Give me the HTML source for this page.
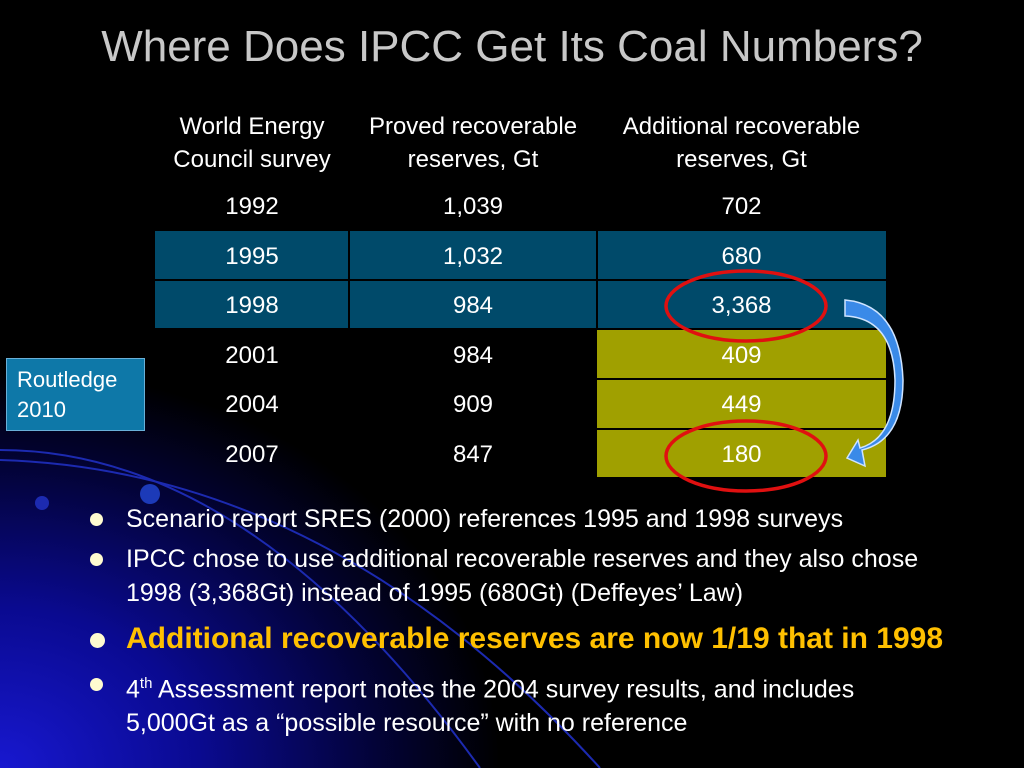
<!DOCTYPE html>
<html><head><meta charset="utf-8"><style>
body{margin:0;width:1024px;height:768px;overflow:hidden;background:#000;font-family:"Liberation Sans",sans-serif}
#s{position:relative;width:1024px;height:768px;background:radial-gradient(ellipse 500px 400px at 0px 768px,#1818d0 0%,#0a0a90 40%,#030338 75%,#000 100%)}
.t{position:absolute;color:#fff;font-size:24px;text-align:center;line-height:33px;white-space:nowrap}
.c{position:absolute;box-sizing:border-box}
.b{position:absolute;left:126px;color:#fff;font-size:25px;line-height:34px;white-space:nowrap}
.d{position:absolute;left:90px;width:13px;height:13px;border-radius:50%;background:#fffbd0}
</style></head><body>
<div id="s">
<svg width="1024" height="768" style="position:absolute;left:0;top:0">
<path d="M0 450 Q250 450 480 768" stroke="#1c2ab0" stroke-width="2" fill="none"/>
<path d="M0 460 Q330 470 600 768" stroke="#1c2ab0" stroke-width="2" fill="none"/>
<circle cx="150" cy="494" r="10" fill="#1c3ab8"/><circle cx="42" cy="503" r="7" fill="#1c2ab0"/>
</svg>
<div class="t" style="left:0;width:1024px;top:22px;font-size:44px;line-height:50px;color:#c8c8c8">Where Does IPCC Get Its Coal Numbers?</div>
<div class="c" style="left:155px;top:231px;width:731px;height:48px;background:#004a6a"></div>
<div class="c" style="left:155px;top:281px;width:731px;height:47px;background:#004a6a"></div>
<div class="c" style="left:597px;top:330px;width:289px;height:48px;background:#a0a000"></div>
<div class="c" style="left:597px;top:380px;width:289px;height:48px;background:#a0a000"></div>
<div class="c" style="left:597px;top:430px;width:289px;height:47px;background:#a0a000"></div>
<div class="c" style="left:348px;top:231px;width:2px;height:97px;background:#000"></div>
<div class="c" style="left:596px;top:231px;width:2px;height:97px;background:#000"></div>
<div class="t" style="left:155px;width:194px;top:110px">World Energy<br>Council survey</div>
<div class="t" style="left:349px;width:248px;top:110px">Proved recoverable<br>reserves, Gt</div>
<div class="t" style="left:597px;width:289px;top:110px">Additional recoverable<br>reserves, Gt</div>
<div id="rows"></div>
<div class="c" style="left:6px;top:358px;width:139px;height:73px;background:#0e78a8;border:1px solid #6ab0d8;color:#fff;font-size:22px;line-height:30px;padding:6px 0 0 10px">Routledge<br>2010</div>
<svg width="1024" height="768" style="position:absolute;left:0;top:0">
<ellipse cx="746" cy="306" rx="80" ry="35" stroke="#e01010" stroke-width="3.5" fill="none"/>
<ellipse cx="746" cy="456" rx="80" ry="35" stroke="#e01010" stroke-width="3.5" fill="none"/>
<path d="M845 300 Q900 305 903 380 Q903 440 862 450 L865 466 L847 458 L858 440 L860 448 Q895 438 895 380 Q893 318 845 316 Z" fill="#3a8ae8" stroke="#cfe4ff" stroke-width="1.5"/>
</svg>
<div class="d" style="top:513px"></div>
<div class="b" style="top:502px">Scenario report SRES (2000) references 1995 and 1998 surveys</div>
<div class="d" style="top:553px"></div>
<div class="b" style="top:542px">IPCC chose to use additional recoverable reserves and they also chose<br>1998 (3,368Gt) instead of 1995 (680Gt) (Deffeyes’ Law)</div>
<div class="d" style="top:633px;width:15px;height:15px"></div>
<div class="b" style="top:620px;font-size:30px;line-height:38px;font-weight:bold;color:#ffc000">Additional recoverable reserves are now 1/19 that in 1998</div>
<div class="d" style="top:678px"></div>
<div class="b" style="top:667px">4<sup style="font-size:15px">th</sup> Assessment report notes the 2004 survey results, and includes<br>5,000Gt as a “possible resource” with no reference</div>
</div>
<script>
const years=["1992","1995","1998","2001","2004","2007"];
const proved=["1,039","1,032","984","984","909","847"];
const additional=["702","680","3,368","409","449","180"];
const host=document.getElementById('rows');
years.forEach((y,i)=>{
 const top=190+i*49.5;
 [[y,155,194],[proved[i],349,248],[additional[i],597,289]].forEach((c,j)=>{
  const d=document.createElement('div');
  d.className='t';
  d.style.left=c[1]+'px';d.style.width=c[2]+'px';d.style.top=top+'px';
  d.textContent=c[0];
  
  
  host.appendChild(d);
 });
});
</script>
</body></html>
